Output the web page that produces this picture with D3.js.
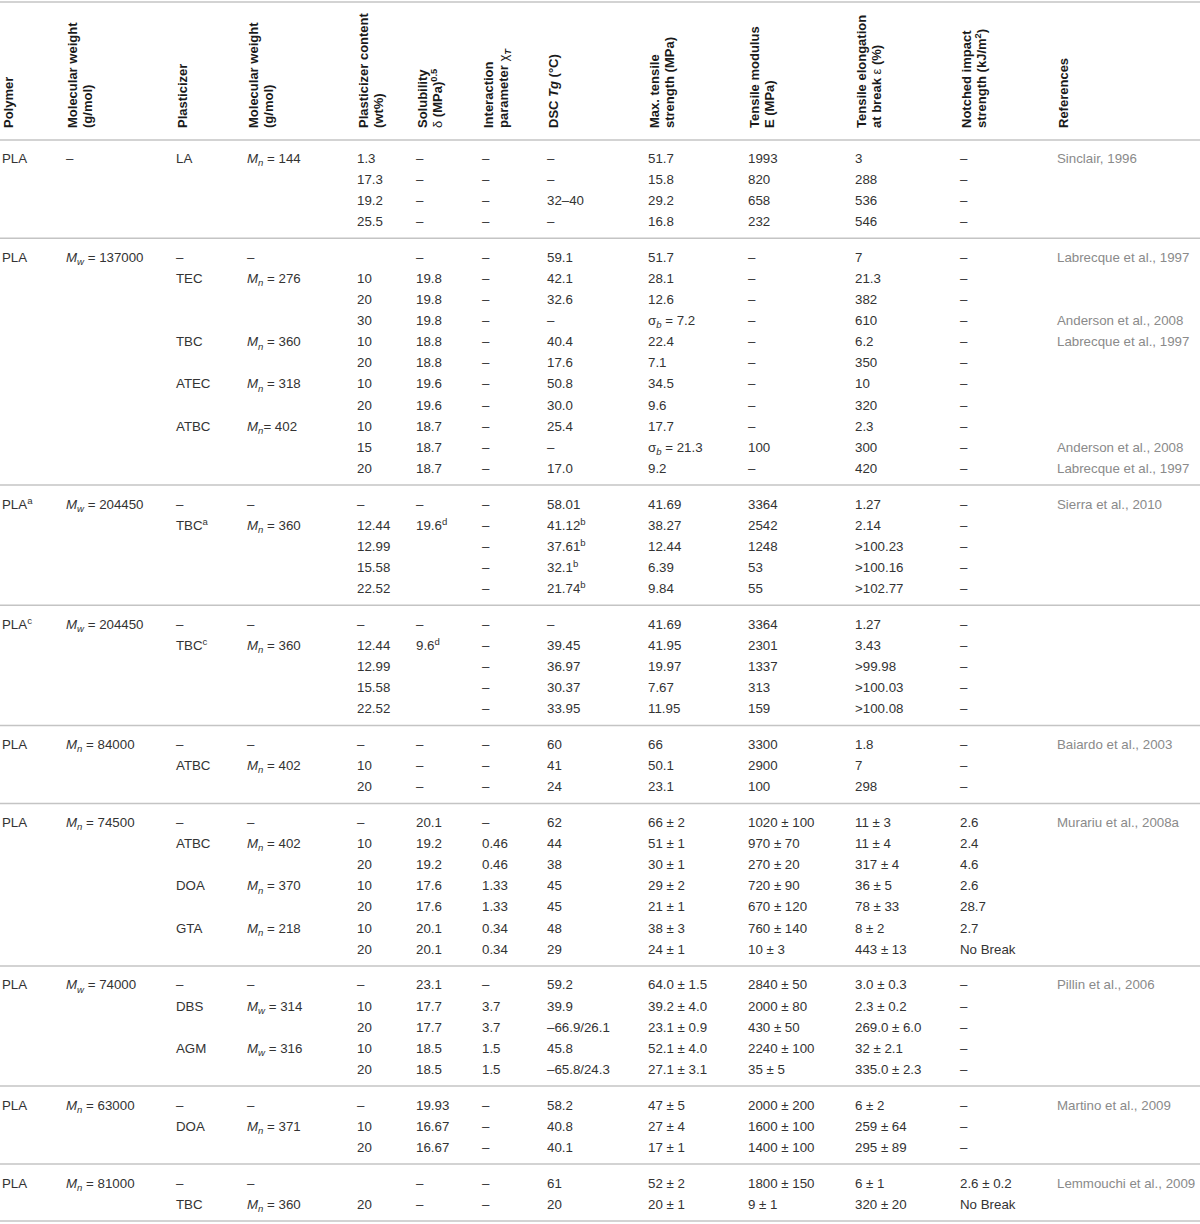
<!DOCTYPE html>
<html><head><meta charset="utf-8">
<script src="https://cdn.jsdelivr.net/npm/d3@7"></script>
<style>body{margin:0;background:#fff}</style>
</head><body><svg id="c" width="1200" height="1224"></svg>
<script>
// ---------- DATA ----------
const columnKeys = ["polymer","polymerMW","plasticizer","plastMW","content","solubility","interaction","dsc","tensile","modulus","elongation","impact","references"];
const headerLines = [
  ["Polymer"],
  ["Molecular weight","(g/mol)"],
  ["Plasticizer"],
  ["Molecular weight","(g/mol)"],
  ["Plasticizer content","(wt%)"],
  ["Solubility","~δ~ (MPa)^{0.5}"],
  ["Interaction","parameter ~χ~_{T}"],
  ["DSC *Tg* (°C)"],
  ["Max. tensile","strength (MPa)"],
  ["Tensile modulus","E (MPa)"],
  ["Tensile elongation","at break ~ε~ (%)"],
  ["Notched impact","strength (kJ/m^{2})"],
  ["References"]
];
const groupSizes = [4,11,5,5,3,7,5,3,2];
const D = "–";
const polymer = ["PLA","","","", "PLA","","","","","","","","","","", "PLA^{a}","","","","", "PLA^{c}","","","","", "PLA","","", "PLA","","","","","","", "PLA","","","","", "PLA","","", "PLA",""];
const polymerMW = [D,"","","", "*M*_{w} = 137000","","","","","","","","","","", "*M*_{w} = 204450","","","","", "*M*_{w} = 204450","","","","", "*M*_{n} = 84000","","", "*M*_{n} = 74500","","","","","","", "*M*_{w} = 74000","","","","", "*M*_{n} = 63000","","", "*M*_{n} = 81000",""];
const plasticizer = ["LA","","","", D,"TEC","","","TBC","","ATEC","","ATBC","","", D,"TBC^{a}","","","", D,"TBC^{c}","","","", D,"ATBC","", D,"ATBC","","DOA","","GTA","", D,"DBS","","AGM","", D,"DOA","", D,"TBC"];
const plastMW = ["*M*_{n} = 144","","","", D,"*M*_{n} = 276","","","*M*_{n} = 360","","*M*_{n} = 318","","*M*_{n}= 402","","", D,"*M*_{n} = 360","","","", D,"*M*_{n} = 360","","","", D,"*M*_{n} = 402","", D,"*M*_{n} = 402","","*M*_{n} = 370","","*M*_{n} = 218","", D,"*M*_{w} = 314","","*M*_{w} = 316","", D,"*M*_{n} = 371","", D,"*M*_{n} = 360"];
const content = ["1.3","17.3","19.2","25.5", "","10","20","30","10","20","10","20","10","15","20", D,"12.44","12.99","15.58","22.52", D,"12.44","12.99","15.58","22.52", D,"10","20", D,"10","20","10","20","10","20", D,"10","20","10","20", D,"10","20", "","20"];
const solubility = [D,D,D,D, D,"19.8","19.8","19.8","18.8","18.8","19.6","19.6","18.7","18.7","18.7", D,"19.6^{d}","","","", D,"9.6^{d}","","","", D,D,D, "20.1","19.2","19.2","17.6","17.6","20.1","20.1", "23.1","17.7","17.7","18.5","18.5", "19.93","16.67","16.67", D,D];
const interaction = [D,D,D,D, D,D,D,D,D,D,D,D,D,D,D, D,D,D,D,D, D,D,D,D,D, D,D,D, D,"0.46","0.46","1.33","1.33","0.34","0.34", D,"3.7","3.7","1.5","1.5", D,D,D, D,D];
const dsc = [D,D,"32–40",D, "59.1","42.1","32.6",D,"40.4","17.6","50.8","30.0","25.4",D,"17.0", "58.01","41.12^{b}","37.61^{b}","32.1^{b}","21.74^{b}", D,"39.45","36.97","30.37","33.95", "60","41","24", "62","44","38","45","45","48","29", "59.2","39.9","–66.9/26.1","45.8","–65.8/24.3", "58.2","40.8","40.1", "61","20"];
const tensile = ["51.7","15.8","29.2","16.8", "51.7","28.1","12.6","σ_{b} = 7.2","22.4","7.1","34.5","9.6","17.7","σ_{b} = 21.3","9.2", "41.69","38.27","12.44","6.39","9.84", "41.69","41.95","19.97","7.67","11.95", "66","50.1","23.1", "66 ± 2","51 ± 1","30 ± 1","29 ± 2","21 ± 1","38 ± 3","24 ± 1", "64.0 ± 1.5","39.2 ± 4.0","23.1 ± 0.9","52.1 ± 4.0","27.1 ± 3.1", "47 ± 5","27 ± 4","17 ± 1", "52 ± 2","20 ± 1"];
const modulus = ["1993","820","658","232", D,D,D,D,D,D,D,D,D,"100",D, "3364","2542","1248","53","55", "3364","2301","1337","313","159", "3300","2900","100", "1020 ± 100","970 ± 70","270 ± 20","720 ± 90","670 ± 120","760 ± 140","10 ± 3", "2840 ± 50","2000 ± 80","430 ± 50","2240 ± 100","35 ± 5", "2000 ± 200","1600 ± 100","1400 ± 100", "1800 ± 150","9 ± 1"];
const elongation = ["3","288","536","546", "7","21.3","382","610","6.2","350","10","320","2.3","300","420", "1.27","2.14",">100.23",">100.16",">102.77", "1.27","3.43",">99.98",">100.03",">100.08", "1.8","7","298", "11 ± 3","11 ± 4","317 ± 4","36 ± 5","78 ± 33","8 ± 2","443 ± 13", "3.0 ± 0.3","2.3 ± 0.2","269.0 ± 6.0","32 ± 2.1","335.0 ± 2.3", "6 ± 2","259 ± 64","295 ± 89", "6 ± 1","320 ± 20"];
const impact = [D,D,D,D, D,D,D,D,D,D,D,D,D,D,D, D,D,D,D,D, D,D,D,D,D, D,D,D, "2.6","2.4","4.6","2.6","28.7","2.7","No Break", D,D,D,D,D, D,D,D, "2.6 ± 0.2","No Break"];
const references = ["Sinclair, 1996","","","", "Labrecque et al., 1997","","","Anderson et al., 2008","Labrecque et al., 1997","","","","","Anderson et al., 2008","Labrecque et al., 1997", "Sierra et al., 2010","","","","", "","","","","", "Baiardo et al., 2003","","", "Murariu et al., 2008a","","","","","","", "Pillin et al., 2006","","","","", "Martino et al., 2009","","", "Lemmouchi et al., 2009",""];

// ---------- LAYOUT ----------
const columns = [polymer,polymerMW,plasticizer,plastMW,content,solubility,interaction,dsc,tensile,modulus,elongation,impact,references];
const W = 1200, H = 1224;
const svg = d3.select("#c");
const x = d3.scaleOrdinal().domain(columnKeys).range([2,66,176,247,357,416,482,547,648,748,855,960,1057]);
const nRows = polymer.length;
const groupOf = [];
groupSizes.forEach((n,g)=>{for(let k=0;k<n;k++) groupOf.push(g);});
const pitch = 21.1, gap = 14.7, firstY = 158;
const yBase = d3.scaleLinear().domain([0, nRows-1]).range([firstY, firstY + (nRows-1)*pitch]);
const y = i => yBase(i) + groupOf[i]*gap;

const lineColor = "#c4c4c4";
const bodyFont = "'Liberation Sans', Arial, sans-serif";

// rich text parser
function rich(sel, str, baseSize, baseWeight) {
  const re = /(\*[^*]+\*|_\{[^}]+\}|\^\{[^}]+\}|~[^~]+~|[^*_^~]+)/g;
  let m, shift = 0;
  while ((m = re.exec(str)) !== null) {
    const t = m[0];
    let txt = t, style = "normal", size = baseSize, dy = 0, weight = baseWeight;
    if (t.startsWith("*")) { txt = t.slice(1,-1); style = "italic"; }
    else if (t.startsWith("_{")) { txt = t.slice(2,-1); style = "italic"; size = baseSize*0.72; dy = baseSize*0.25; }
    else if (t.startsWith("^{")) { txt = t.slice(2,-1); size = baseSize*0.72; dy = -baseSize*0.38; }
    else if (t.startsWith("~")) { txt = t.slice(1,-1); weight = "normal"; }
    const ts = sel.append("tspan").text(txt).attr("font-style", style).attr("font-size", size).attr("font-weight", weight);
    const d = dy - shift;
    if (d !== 0) ts.attr("dy", d);
    shift = dy;
  }
}

// horizontal rules
const rules = [2, 140];
let acc = 0;
groupSizes.forEach(n => { acc += n; rules.push(y(acc-1) + 17); });
svg.selectAll("line.rule").data(rules).join("line").attr("class","rule")
  .attr("x1",0).attr("x2",W).attr("y1",d=>d).attr("y2",d=>d)
  .attr("stroke",lineColor).attr("stroke-width",1.5);

// headers
const hdr = svg.append("g");
headerLines.forEach((lines, c) => {
  lines.forEach((ln, li) => {
    const t = hdr.append("text")
      .attr("transform", `translate(${x(columnKeys[c]) + 10.5 + li*15},128) rotate(-90)`)
      .attr("font-family", bodyFont).attr("font-size", 13).attr("font-weight", "bold").attr("fill", "#1a1a1a");
    rich(t, ln, 13, "bold");
  });
});

// body cells
const body = svg.append("g");
columns.forEach((col, c) => {
  col.forEach((v, i) => {
    if (!v) return;
    const t = body.append("text")
      .attr("x", x(columnKeys[c])).attr("y", y(i) + 4.7)
      .attr("font-family", bodyFont).attr("font-size", 13.3)
      .attr("fill", c === 12 ? "#8a8a8a" : "#333");
    rich(t, v, 13.3, "normal");
  });
});
</script></body></html>
